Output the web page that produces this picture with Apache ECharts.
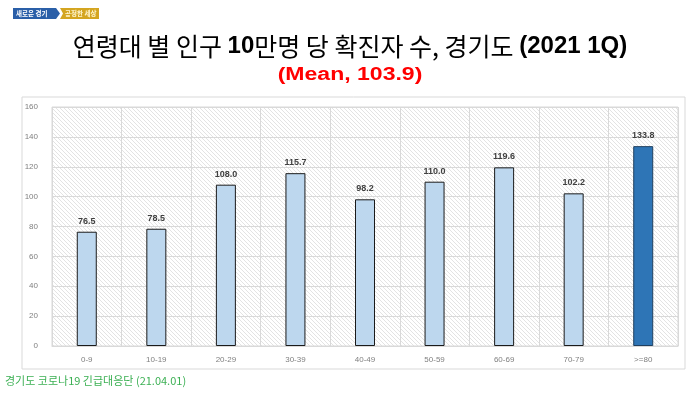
<!DOCTYPE html>
<html><head><meta charset="utf-8">
<script src="https://cdn.jsdelivr.net/npm/echarts@6/dist/echarts.min.js"></script>
<style>html,body{margin:0;padding:0;background:#fff}#c{width:700px;height:394px}</style>
</head><body><div id="c"></div>
<script>
const categories = ['0-9','10-19','20-29','30-39','40-49','50-59','60-69','70-79','>=80'];
const values = [76.5, 78.5, 108.0, 115.7, 98.2, 110.0, 119.6, 102.2, 133.8];
const yTicks = {min: 0, max: 160, interval: 20};

const pc = document.createElement('canvas');
pc.width = 4; pc.height = 4;
const g = pc.getContext('2d');
g.fillStyle = '#ffffff'; g.fillRect(0,0,4,4);
g.strokeStyle = '#e3e3e3'; g.lineWidth = 1;
g.beginPath(); g.moveTo(-1,-1); g.lineTo(5,5); g.moveTo(-1,3); g.lineTo(1,5); g.moveTo(3,-1); g.lineTo(5,1); g.stroke();

const chart = echarts.init(document.getElementById('c'));
const KR = '"Noto Sans CJK KR", sans-serif';
const LAT = '"Liberation Sans", Arial, sans-serif';
chart.setOption({
  animation: false,
  backgroundColor: '#fff',
  title: [{
    text: '{k|연령대 별 인구 }{b|10}{k|만명 당 확진자 수, 경기도 }{b|(2021 1Q)}',
    left: 'center', top: 29,
    textStyle: {
      rich: {
        k: {fontFamily: KR, fontSize: 25, color: '#000', fontWeight: 'normal'},
        b: {fontFamily: LAT, fontSize: 24, color: '#000', fontWeight: 'bold'}
      }
    }
  }],
  grid: {left: 52, right: 22, top: 107, bottom: 48, show: true,
    backgroundColor: {image: pc, repeat: 'repeat'}, borderColor: '#d9d9d9', borderWidth: 1},
  xAxis: {
    type: 'category', data: categories,
    axisLine: {lineStyle: {color: '#d9d9d9'}},
    axisTick: {show: false},
    splitLine: {show: true, lineStyle: {color: '#d9d9d9'}},
    axisLabel: {color: '#7f7f7f', fontSize: 8, fontFamily: LAT, margin: 10}
  },
  yAxis: {
    type: 'value', min: yTicks.min, max: yTicks.max, interval: yTicks.interval,
    axisLine: {show: false}, axisTick: {show: false},
    splitLine: {lineStyle: {color: '#d9d9d9'}},
    axisLabel: {color: '#7f7f7f', fontSize: 8, fontFamily: LAT, margin: 14}
  },
  series: [{
    type: 'bar', barWidth: 20,
    data: values.map((v, i) => ({value: v, itemStyle: i === values.length - 1 ?
      {color: '#2e75b6', borderColor: '#1f3f5f', borderWidth: 1} :
      {color: '#bdd7ee', borderColor: '#1a1a1a', borderWidth: 1}})),
    label: {show: true, position: 'top', distance: 6, formatter: p => p.value.toFixed(1),
      color: '#404040', fontSize: 9, fontWeight: 'bold', fontFamily: LAT}
  }],
  graphic: [
    {type: 'rect', z: -10, shape: {x: 22, y: 97, width: 663, height: 272},
     style: {fill: 'none', stroke: '#d9d9d9', lineWidth: 1}},
    {type: 'text', x: 350, y: 75, scaleX: 1.28, originX: 0, originY: 0,
     style: {text: '(Mean, 103.9)', fill: '#ff0000', fontSize: 18, fontWeight: 'bold', fontFamily: LAT,
       align: 'center', verticalAlign: 'middle'}},
    {type: 'polygon', shape: {points: [[13,8],[56,8],[60,13.5],[56,19],[13,19]]}, style: {fill: '#2a5fa8'}},
    {type: 'text', x: 16, y: 10, style: {text: '새로운 경기', fill: '#fff', fontSize: 6.5, fontFamily: KR, fontWeight: 'bold'}},
    {type: 'polygon', shape: {points: [[60,8],[99,8],[99,19],[60,19],[63,13.5]]}, style: {fill: '#d4a520'}},
    {type: 'text', x: 65, y: 10, style: {text: '공정한 세상', fill: '#fff6d0', fontSize: 6.5, fontFamily: KR, fontWeight: 'bold'}},
    {type: 'text', x: 5, y: 375, style: {text: '경기도 코로나19 긴급대응단 (21.04.01)', fill: '#3cb054', fontSize: 11, fontFamily: KR}}
  ]
});
</script></body></html>
